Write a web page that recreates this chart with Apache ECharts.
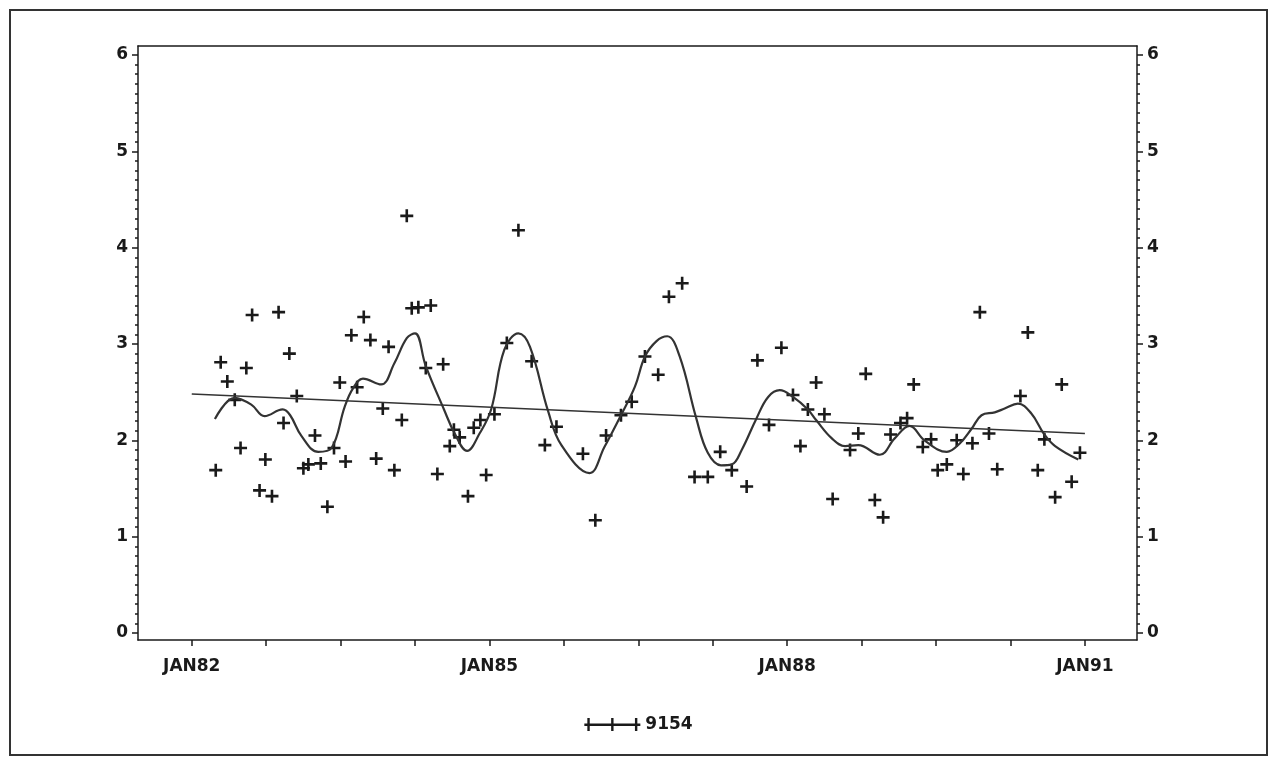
<!DOCTYPE html>
<html>
<head>
<meta charset="utf-8">
<script src="https://cdn.jsdelivr.net/npm/echarts@6/dist/echarts.min.js"></script>
<style>
    html, body { margin: 0; padding: 0; background: #fff; }
    #chart { width: 1277px; height: 761px; }
</style>
</head>
<body>
<div id="chart"></div>
<script>
// x values are months since JAN82
const obsMonth = [
    2.9, 3.5, 4.3, 5.2, 5.9, 6.6, 7.3, 8.2, 8.9, 9.7, 10.5, 11.1, 11.8, 12.7, 13.5, 14.1, 14.9,
    15.6, 16.4, 17.2, 17.9, 18.6, 19.3, 20.0, 20.8, 21.6, 22.3, 23.1, 23.8, 24.5, 25.4, 26.0,
    26.6, 27.4, 28.3, 28.9, 29.7, 30.4, 31.2, 31.7, 32.4, 33.4, 34.1, 34.9, 35.6, 36.6, 38.1,
    39.5, 41.1, 42.7, 44.1, 47.3, 48.8, 50.1, 51.9, 53.2, 54.8, 56.4, 57.7, 59.3, 60.8, 62.4,
    63.9, 65.3, 67.1, 68.4, 69.8, 71.3, 72.7, 73.6, 74.5, 75.5, 76.5, 77.5, 79.6, 80.6, 81.5,
    82.6, 83.6, 84.5, 85.7, 86.5, 87.3, 88.4, 89.4, 90.2, 91.3, 92.5, 93.3, 94.4, 95.3, 96.4,
    97.4, 100.2, 101.1, 102.3, 103.1, 104.4, 105.2, 106.4, 107.4
]
const obsValue = [
    1.69, 2.81, 2.61, 2.42, 1.92, 2.75, 3.30, 1.48, 1.80, 1.42, 3.33, 2.18, 2.90, 2.46, 1.71, 1.75, 2.05,
    1.76, 1.31, 1.92, 2.60, 1.78, 3.09, 2.55, 3.28, 3.04, 1.81, 2.33, 2.97, 1.69, 2.21, 4.33,
    3.37, 3.38, 2.75, 3.40, 1.65, 2.79, 1.94, 2.11, 2.03, 1.42, 2.13, 2.21, 1.64, 2.27, 3.01,
    4.18, 2.82, 1.95, 2.14, 1.86, 1.17, 2.05, 2.26, 2.40, 2.87, 2.68, 3.49, 3.63, 1.62, 1.62,
    1.88, 1.69, 1.52, 2.83, 2.16, 2.96, 2.47, 1.94, 2.32, 2.60, 2.27, 1.39, 1.90, 2.07, 2.69,
    1.38, 1.20, 2.06, 2.18, 2.23, 2.58, 1.93, 2.01, 1.69, 1.75, 2.00, 1.65, 1.97, 3.33, 2.07,
    1.70, 2.46, 3.12, 1.69, 2.01, 1.41, 2.58, 1.57, 1.87
]

// smoothed curve read along its path
const smoothMonth = [
    2.8, 5.2, 7.2, 8.8, 11.0, 11.9, 13.3, 15.3, 16.9, 18.5, 19.5, 20.7, 22.9, 24.5, 26.0, 27.0,
    28.3, 30.5, 31.8, 33.3, 34.8, 36.2, 37.8, 39.5, 40.9, 43.1, 44.7, 48.1, 49.9, 51.9, 53.6,
    54.8, 56.2, 57.5, 59.0, 61.0, 62.4, 64.0, 65.3, 66.5, 68.3, 69.7, 71.1, 72.7, 74.5, 75.5,
    77.4, 79.0, 80.6, 83.2, 85.0, 86.8, 88.6, 91.3, 92.9, 94.3, 95.5, 97.1, 98.3, 99.9, 101.5,
    103.1, 104.4, 107.2
]
const smoothValue = [
    2.22, 2.44, 2.37, 2.25, 2.32, 2.26, 2.04, 1.88, 1.92, 2.35, 2.54, 2.64, 2.58, 2.80, 3.06, 3.11,
    2.77, 2.32, 2.07, 1.89, 2.07, 2.32, 2.94, 3.11, 2.97, 2.30, 1.95, 1.66, 1.93, 2.26, 2.56,
    2.87, 3.03, 3.08, 2.87, 2.23, 1.87, 1.74, 1.75, 1.90, 2.23, 2.45, 2.52, 2.45, 2.32, 2.21,
    2.02, 1.94, 1.95, 1.85, 2.02, 2.15, 2.00, 1.88, 1.97, 2.12, 2.26, 2.29, 2.33, 2.38, 2.28,
    2.06, 1.94, 1.80
]

const trendMonth = [0, 108]
const trendValue = [2.48, 2.07]

const xTickMonths = [0, 9, 18, 27, 36, 45, 54, 63, 72, 81, 90, 99, 108]
const xLabelMonths = [0, 36, 72, 108]
const yLabels = [0, 1, 2, 3, 4, 5, 6]
const yMinorTicks = []
for (let i = 0; i <= 60; i++) {
    if (i % 10 !== 0) yMinorTicks.push(i / 10)
}

const ink = '#1a1a1a'
const plus = 'path://M4,0 h2 v4 h4 v2 h-4 v4 h-2 v-4 h-4 v-2 h4 z'
const legendIcon = 'path://M0,6 h56 v2.4 h-56 z M3,0.5 h2.4 v13 h-2.4 z M26.8,0.5 h2.4 v13 h-2.4 z M50.6,0.5 h2.4 v13 h-2.4 z'
const font = { fontFamily: 'DejaVu Sans', fontWeight: 'bold', fontSize: 17, color: ink }

const zip = (xs, ys) => xs.map((x, i) => [x, ys[i]])

const yBase = { type: 'value', min: -0.073, max: 6.093, splitLine: { show: false } }
const yMain = (pos) => ({
    ...yBase,
    position: pos,
    axisLine: { show: true, onZero: false, lineStyle: { color: ink, width: 1.5 } },
    axisTick: { show: true, length: 6, customValues: yLabels, lineStyle: { color: ink, width: 1.5 } },
    axisLabel: { show: true, customValues: yLabels, margin: 10, ...font }
})
const yMinor = (pos) => ({
    ...yBase,
    position: pos,
    axisLine: { show: false, onZero: false },
    axisTick: { show: true, length: 3, customValues: yMinorTicks, lineStyle: { color: ink, width: 1.5 } },
    axisLabel: { show: false }
})

const chart = echarts.init(document.getElementById('chart'))

const option = {
    animation: false,
    backgroundColor: '#fff',
    grid: { left: 138, right: 140, top: 46, bottom: 121 },
    graphic: [{
        type: 'rect',
        shape: { x: 10, y: 10, width: 1257, height: 745 },
        style: { fill: 'none', stroke: '#333', lineWidth: 2 },
        silent: true
    }],
    legend: {
        left: 'center',
        top: 711,
        itemWidth: 56,
        itemHeight: 14,
        itemGap: 10,
        textStyle: font,
        data: [{ name: '9154', icon: legendIcon }]
    },
    xAxis: [
        {
            type: 'value',
            min: -6.5,
            max: 114.3,
            position: 'bottom',
            splitLine: { show: false },
            axisLine: { show: true, onZero: false, lineStyle: { color: ink, width: 1.5 } },
            axisTick: { show: true, length: 6, customValues: xTickMonths, lineStyle: { color: ink, width: 1.5 } },
            axisLabel: {
                customValues: xLabelMonths,
                margin: 18,
                ...font,
                formatter: (v) => 'JAN' + (82 + Math.round(v / 12))
            }
        },
        {
            type: 'value',
            min: -6.5,
            max: 114.3,
            position: 'top',
            splitLine: { show: false },
            axisLine: { show: true, onZero: false, lineStyle: { color: ink, width: 1.5 } },
            axisTick: { show: false },
            axisLabel: { show: false }
        }
    ],
    yAxis: [yMain('left'), yMinor('left'), yMain('right'), yMinor('right')],
    series: [
        {
            name: '9154',
            type: 'scatter',
            symbol: plus,
            symbolSize: 13,
            itemStyle: { color: ink, opacity: 1 },
            data: zip(obsMonth, obsValue)
        },
        {
            name: 'smooth',
            type: 'line',
            smooth: 0.4,
            symbol: 'none',
            lineStyle: { color: '#333', width: 2.2 },
            data: zip(smoothMonth, smoothValue)
        },
        {
            name: 'trend',
            type: 'line',
            symbol: 'none',
            lineStyle: { color: '#333', width: 1.6 },
            data: zip(trendMonth, trendValue)
        }
    ]
}

chart.setOption(option)
</script>
</body>
</html>
